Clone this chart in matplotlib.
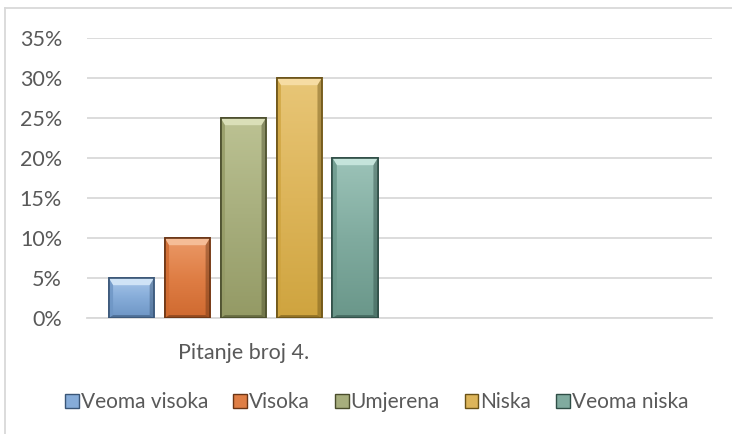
import numpy as np
import matplotlib.pyplot as plt
from matplotlib.patches import Rectangle, Polygon
from matplotlib.lines import Line2D
from matplotlib.colors import LinearSegmentedColormap
from matplotlib.ticker import PercentFormatter

# data
categories = ["Pitanje broj 4.", ""]
series_names = ["Veoma visoka", "Visoka", "Umjerena", "Niska", "Veoma niska"]
series_values = [0.05, 0.10, 0.25, 0.30, 0.20]
y_ticks = [0, 0.05, 0.10, 0.15, 0.20, 0.25, 0.30, 0.35]

# colours: light top, base, dark bottom, outline
colors = ["#86acd9", "#df7e45", "#a7ae7d", "#ddb55a", "#80ab9f"]
lights = ["#a9c8ea", "#eb9a68", "#bcc293", "#e8c677", "#9cc3b8"]
darks = ["#6d95c4", "#cf6a30", "#949a65", "#cfa43f", "#6a978a"]
edges = ["#3a5677", "#6a3515", "#4a4d2c", "#6a5217", "#2f4e46"]
tops = ["#cfe3f6", "#f5bd97", "#dadfb8", "#f6dca3", "#c5e4db"]

plt.rcParams["font.family"] = ["Lato", "DejaVu Sans"]
text_color = "#595959"
grid_color = "#d9d9d9"

# create bar chart
fig = plt.figure(figsize=(7.32, 4.34), dpi=100)
ax = fig.add_axes([87 / 732, 1 - 318 / 434, 625 / 732, 280 / 434])

step = 0.179
width = 0.145
dx, dy = 0.014, 0.009
grad = np.linspace(1, 0, 100).reshape(-1, 1)
for i, (name, val) in enumerate(zip(series_names, series_values)):
    x = 0 + (i - 2) * step
    bar = ax.bar(x, val, width=width, color=colors[i], edgecolor=edges[i],
                 linewidth=1.2, label=name, zorder=3)[0]
    x0, x1 = x - width / 2, x + width / 2
    # vertical gradient fill
    cmap = LinearSegmentedColormap.from_list("g%d" % i, [darks[i], colors[i], lights[i]])
    im = ax.imshow(grad, extent=(x0, x1, 0, val), aspect="auto", cmap=cmap,
                   origin="upper", zorder=3.5)
    im.set_clip_path(bar)
    # bevel: light top, darker sides and bottom
    ax.add_patch(Polygon([(x0, val), (x1, val), (x1 - dx, val - dy), (x0 + dx, val - dy)],
                         facecolor=tops[i], edgecolor="none", zorder=4))
    ax.add_patch(Polygon([(x0, val), (x0 + dx, val - dy), (x0 + dx, dy * 0.4), (x0, 0)],
                         facecolor=darks[i], edgecolor="none", alpha=0.8, zorder=4))
    ax.add_patch(Polygon([(x1, val), (x1 - dx, val - dy), (x1 - dx, dy * 0.4), (x1, 0)],
                         facecolor=edges[i], edgecolor="none", alpha=0.45, zorder=4))
    ax.add_patch(Polygon([(x0, 0), (x1, 0), (x1 - dx, dy * 0.4), (x0 + dx, dy * 0.4)],
                         facecolor=edges[i], edgecolor="none", alpha=0.6, zorder=4))
    ax.add_patch(Rectangle((x0, 0), width, val, facecolor="none", edgecolor=edges[i],
                           linewidth=1.2, zorder=5))

# axes styling
ax.set_xlim(-0.5, 1.5)
ax.set_ylim(0, 0.35)
ax.set_yticks(y_ticks)
ax.yaxis.set_major_formatter(PercentFormatter(1.0, decimals=0))
ax.set_xticks(range(len(categories)))
ax.set_xticklabels(categories)
ax.tick_params(axis="both", length=0, labelsize=15.5, colors=text_color)
ax.tick_params(axis="y", pad=18)
ax.tick_params(axis="x", pad=18)
ax.grid(True, axis="y", color=grid_color, linewidth=1.3, zorder=0)
for s in ["top", "right", "left"]:
    ax.spines[s].set_visible(False)
ax.spines["bottom"].set_color(grid_color)
ax.spines["bottom"].set_linewidth(1.3)

# chart area border (cut at right/bottom)
fig.add_artist(Line2D([5 / 732, 1], [1 - 8 / 434, 1 - 8 / 434], color=grid_color, linewidth=1.3))
fig.add_artist(Line2D([5 / 732, 5 / 732], [0, 1 - 8 / 434], color=grid_color, linewidth=1.3))

handles = [Rectangle((0, 0), 1, 1, facecolor=colors[i], edgecolor=edges[i], linewidth=1)
           for i in range(len(series_names))]
fig.legend(handles, series_names, loc="center", bbox_to_anchor=(377 / 732, 1 - 402 / 434),
           ncol=5, frameon=False, fontsize=15, labelcolor=text_color,
           handlelength=0.65, handleheight=0.65, handletextpad=0.1, columnspacing=1.2)

fig.savefig("out.png", dpi=100)
